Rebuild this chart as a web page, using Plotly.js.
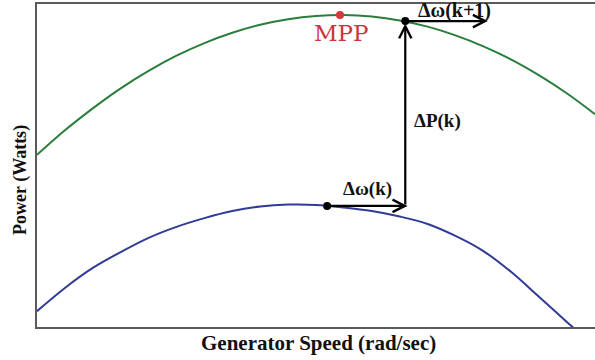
<!DOCTYPE html>
<html>
<head>
<meta charset="utf-8">
<script src="https://cdn.plot.ly/plotly-3.0.1.min.js"></script>
<style>
html,body{margin:0;padding:0;background:#fff;}
#chart{width:595px;height:360px;}
</style>
</head>
<body>
<div id="chart"></div>
<script>
// Generator speed (relative units, 0-100 across the plot)
const speed = [0,5,10,15,20,25,30,35,40,45,50,55,60,65,70,75,80,85,90,95,100];
// Upper (green) power curve
const powerHigh = [53.3,60.9,67.7,73.9,79.3,84.0,87.9,91.1,93.6,95.3,96.3,96.6,96.1,94.9,93.0,90.3,86.9,82.8,77.9,72.3,65.9];
// Lower (blue) power curve
const powerLow = [4.9,12.1,18.3,23.2,27.6,31.0,33.7,35.9,37.3,37.9,37.8,37.0,35.9,34.2,31.9,28.2,23.5,17.0,9.3,1.5,-6.2];

// Marked points
const mppX = [54.3], mppY = [96.6];
const opX = [52.0, 66.0], opY = [37.5, 94.7];

// Arrows: tail -> head
const arrowTailX = [52.0, 66.0, 66.0];
const arrowTailY = [37.5, 37.5, 94.7];
const arrowHeadX = [66.4, 66.0, 80.8];
const arrowHeadY = [37.5, 94.0, 94.7];

// Labels
const labelText = ['MPP', 'Δω(k)', 'ΔP(k)', 'Δω(k+1)'];
const labelX = [54.6, 59.3, 71.7, 74.9];
const labelY = [91.0, 42.6, 63.8, 98.0];
const labelSize = [23, 19, 19, 20];

const serif = 'Liberation Serif, Times New Roman, serif';
const mppFont = 'DejaVu Serif, serif';

const traces = [
  {x: speed, y: powerHigh, mode: 'lines', line: {color: '#2a7e3c', width: 2, shape: 'spline'}, hoverinfo: 'none'},
  {x: speed, y: powerLow, mode: 'lines', line: {color: '#303b96', width: 2, shape: 'spline'}, hoverinfo: 'none'},
  {x: mppX, y: mppY, mode: 'markers', marker: {color: '#d8383c', size: 8}, hoverinfo: 'none'},
  {x: opX, y: opY, mode: 'markers', marker: {color: '#000', size: 8}, hoverinfo: 'none'}
];

const annotations = [];
for (let i = 0; i < arrowTailX.length; i++) {
  annotations.push({
    x: arrowHeadX[i], y: arrowHeadY[i], xref: 'x', yref: 'y',
    ax: arrowTailX[i], ay: arrowTailY[i], axref: 'x', ayref: 'y',
    text: '', showarrow: true, arrowhead: 5, arrowsize: 1.1, arrowwidth: 2.2,
    arrowcolor: '#000', standoff: 0, startstandoff: 0
  });
}
for (let i = 0; i < labelText.length; i++) {
  const isMpp = i === 0;
  annotations.push({
    x: labelX[i], y: labelY[i], xref: 'x', yref: 'y', text: isMpp ? labelText[i] : '<b>' + labelText[i] + '</b>',
    showarrow: false, xanchor: 'center', yanchor: 'middle',
    font: {family: isMpp ? mppFont : serif, size: labelSize[i], color: isMpp ? '#c9363a' : '#111'}
  });
}
annotations.push({
  xref: 'paper', yref: 'paper', x: 0.505, y: -0.048, xanchor: 'center', yanchor: 'middle',
  text: '<b>Generator Speed (rad/sec)</b>', showarrow: false,
  font: {family: serif, size: 21, color: '#111'}
});
annotations.push({
  xref: 'paper', yref: 'paper', x: -0.0305, y: 0.455, xanchor: 'center', yanchor: 'middle',
  text: '<b>Power (Watts)</b>', showarrow: false, textangle: -90,
  font: {family: serif, size: 18, color: '#111'}
});

const layout = {
  width: 595, height: 360,
  margin: {l: 37, r: 0, t: 4, b: 33, pad: 0},
  paper_bgcolor: '#fff', plot_bgcolor: '#fff',
  showlegend: false,
  xaxis: {range: [0, 100], showline: true, mirror: true, linecolor: '#5a5a5a', linewidth: 2,
          showgrid: false, zeroline: false, showticklabels: false, ticks: ''},
  yaxis: {range: [0, 100], showline: true, mirror: false, linecolor: '#5a5a5a', linewidth: 2,
          showgrid: false, zeroline: false, showticklabels: false, ticks: ''},
  annotations: annotations
};

Plotly.newPlot('chart', traces, layout, {displayModeBar: false, staticPlot: true});
</script>
</body>
</html>
